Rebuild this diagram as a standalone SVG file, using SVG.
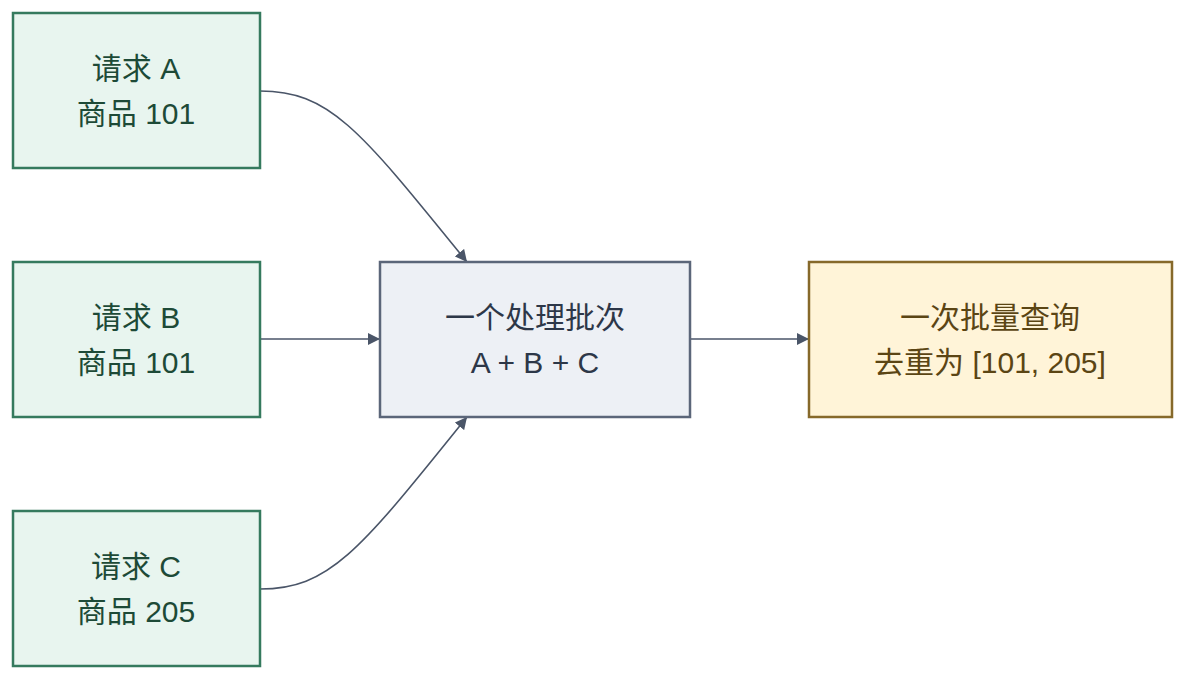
<svg xmlns="http://www.w3.org/2000/svg" width="1200" height="687" viewBox="0 0 1200 687">
<style>
.g rect{fill:#e8f5ef;stroke:#357a5e;stroke-width:2.5}
.g text{fill:#1d4a37}
.m rect{fill:#edf0f5;stroke:#5b6679;stroke-width:2.5}
.m text{fill:#2d3748}
.y rect{fill:#fff4d8;stroke:#86692a;stroke-width:2.5}
.y text{fill:#5b4514}
text{font-family:"Liberation Sans","Noto Sans CJK SC",sans-serif;font-size:30px;text-anchor:middle}
.e path{fill:none;stroke:#4a5568;stroke-width:1.6}
</style>
<defs>
<marker id="arr" viewBox="0 0 10 10" refX="10" refY="5" markerWidth="12" markerHeight="12" markerUnits="userSpaceOnUse" orient="auto"><path d="M0,0 L10,5 L0,10 z" fill="#4a5568"/></marker>
</defs>
<rect width="1200" height="687" fill="#ffffff"/>
<g class="e">
<path d="M260,91 C330,91 360,130 467,262" marker-end="url(#arr)"/>
<path d="M260,339 L380,339" marker-end="url(#arr)"/>
<path d="M260,589 C330,589 360,550 467,417" marker-end="url(#arr)"/>
<path d="M690,339 L809,339" marker-end="url(#arr)"/>
</g>
<g id="nodeA" class="g"><rect x="13" y="13" width="247" height="155"/><text x="136" y="79">请求 A</text><text x="136" y="124">商品 101</text></g>
<g id="nodeB" class="g"><rect x="13" y="262" width="247" height="155"/><text x="136" y="328">请求 B</text><text x="136" y="373">商品 101</text></g>
<g id="nodeC" class="g"><rect x="13" y="511" width="247" height="155"/><text x="136" y="577">请求 C</text><text x="136" y="622">商品 205</text></g>
<g id="batch" class="m"><rect x="380" y="262" width="310" height="155"/><text x="535" y="328">一个处理批次</text><text x="535" y="373">A + B + C</text></g>
<g id="query" class="y"><rect x="809" y="262" width="363" height="155"/><text x="990" y="328">一次批量查询</text><text x="990" y="373">去重为 [101, 205]</text></g>
</svg>
